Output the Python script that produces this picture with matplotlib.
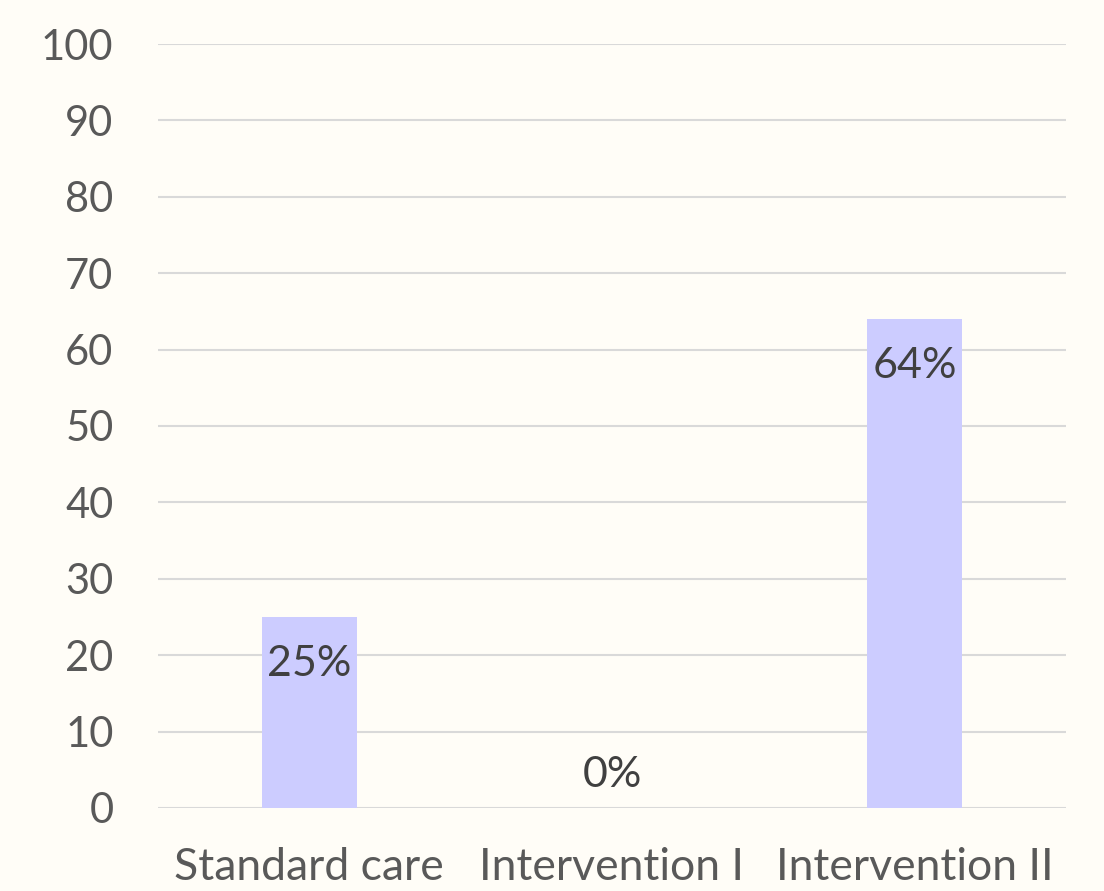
import matplotlib
matplotlib.use("Agg")
import matplotlib.pyplot as plt
import numpy as np

categories = ["Standard care", "Intervention I", "Intervention II"]
values = [25, 0, 64]
labels = ["25%", "0%", "64%"]
yticks = [0, 10, 20, 30, 40, 50, 60, 70, 80, 90, 100]

plt.rcParams['font.family'] = ['Lato', 'DejaVu Sans']

bg = '#FFFDF7'
fig = plt.figure(figsize=(11.04, 8.91), dpi=100, facecolor=bg)
ax = fig.add_axes([0.143, 0.0932, 0.8226, 0.8574], facecolor=bg)

x = np.arange(len(categories))
ax.bar(x, values, width=0.314, color='#CCCCFF', zorder=2)

# data labels: inside the top of each bar, just above the baseline when empty
for xi, v, lab in zip(x, values, labels):
    if v > 0:
        ax.annotate(lab, (xi, v), xytext=(0, -20), textcoords='offset points',
                    ha='center', va='top', fontsize=31, color='#404040', zorder=3)
    else:
        ax.annotate(lab, (xi, v), xytext=(0, 10), textcoords='offset points',
                    ha='center', va='bottom', fontsize=31, color='#404040', zorder=3)

ax.set_xlim(-0.5, 2.5)
ax.set_ylim(0, 100)
ax.set_yticks(yticks)
ax.set_xticks(x)
ax.set_xticklabels(categories)
ax.grid(axis='y', color='#D9D9D9', linewidth=1.5, zorder=1)
ax.set_axisbelow(True)
for s in ax.spines.values():
    s.set_visible(False)
ax.tick_params(axis='both', length=0, labelcolor='#595959')
ax.tick_params(axis='y', labelsize=30, pad=32)
ax.tick_params(axis='x', labelsize=32, pad=28)

fig.savefig('out.png', dpi=100, facecolor=bg)
